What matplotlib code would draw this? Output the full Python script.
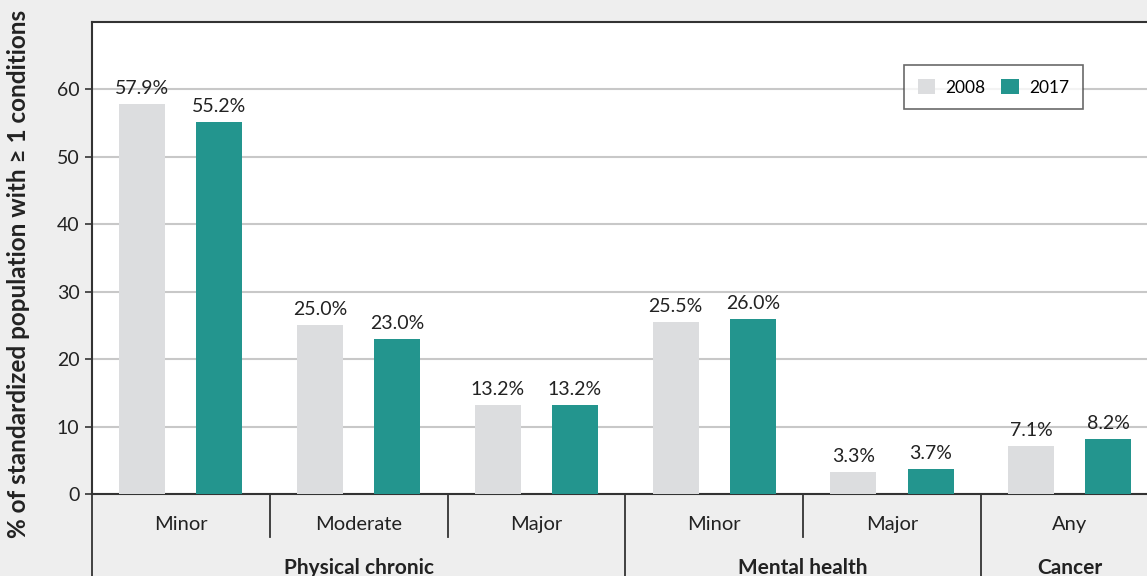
import matplotlib.pyplot as plt
import matplotlib.transforms as mtransforms

plt.rcParams['font.family'] = ['Lato', 'DejaVu Sans']

# data
sub_labels = ['Minor', 'Moderate', 'Major', 'Minor', 'Major', 'Any']
group_labels = ['Physical chronic', 'Mental health', 'Cancer']
group_spans = [(0, 3), (3, 5), (5, 6)]
vals_2008 = [57.9, 25.0, 13.2, 25.5, 3.3, 7.1]
vals_2017 = [55.2, 23.0, 13.2, 26.0, 3.7, 8.2]
y_ticks = [0, 10, 20, 30, 40, 50, 60]

BG = '#eeeeee'
GREY = '#dcdddf'
TEAL = '#23958e'
DARK = '#333333'
TXT = '#222222'

fig = plt.figure(figsize=(11.47, 5.76), dpi=100, facecolor=BG)
ax = fig.add_axes([0.0802, 0.1424, 0.930, 0.8194])
ax.set_facecolor('white')

bw = 0.259
off = 0.217
xs = [i + 0.5 for i in range(len(sub_labels))]
b1 = ax.bar([x - off for x in xs], vals_2008, width=bw, color=GREY, label='2008', zorder=3)
b2 = ax.bar([x + off for x in xs], vals_2017, width=bw, color=TEAL, label='2017', zorder=3)

for bars, vals in [(b1, vals_2008), (b2, vals_2017)]:
    for rect, v in zip(bars, vals):
        ax.annotate(f'{v:.1f}%', (rect.get_x() + rect.get_width() / 2, v),
                    xytext=(0, 5), textcoords='offset points',
                    ha='center', va='bottom', fontsize=14, color=TXT)

ax.set_xlim(0, 6)
ax.set_ylim(0, 70)
ax.set_yticks(y_ticks)
ax.tick_params(axis='y', length=5, width=1.2, color=DARK, labelsize=14,
               labelcolor=TXT, pad=4)
ax.set_xticks([])
ax.grid(axis='y', color='#c8c8c8', linewidth=1.5, zorder=0)

for side in ['left', 'top', 'bottom']:
    ax.spines[side].set_color(DARK)
    ax.spines[side].set_linewidth(1.5)
ax.spines['right'].set_visible(False)

# two-level category axis below the plot
trans = mtransforms.blended_transform_factory(ax.transData, ax.transAxes)
for i, lab in enumerate(sub_labels):
    ax.text(i + 0.5, -0.0655, lab, transform=trans, ha='center', va='center',
            fontsize=14.5, color=TXT)
group_edges = [s for s, e in group_spans] + [6]
for i in range(7):
    low = -0.18 if i in group_edges else -0.091
    ax.plot([i, i], [0, low], transform=trans, color=DARK, lw=1.3, clip_on=False)
for (s, e), lab in zip(group_spans, group_labels):
    ax.text((s + e) / 2, -0.156, lab, transform=trans, ha='center', va='center',
            fontsize=15, fontweight='bold', color=TXT)

leg = ax.legend(loc='upper left', bbox_to_anchor=(0.761, 0.909), borderaxespad=0,
                ncol=2, frameon=True, fancybox=False, edgecolor='#444444',
                fontsize=12.5, handlelength=1.0, handleheight=1.0,
                columnspacing=0.9, borderpad=0.8, handletextpad=0.6)
leg.get_frame().set_linewidth(1.2)

fig.text(0.016, 0.525, '% of standardized population with \u2265 1 conditions',
         rotation=90, ha='center', va='center', fontsize=17.5, fontweight='bold',
         color=TXT)

fig.savefig('out.png', dpi=100, facecolor=BG)
